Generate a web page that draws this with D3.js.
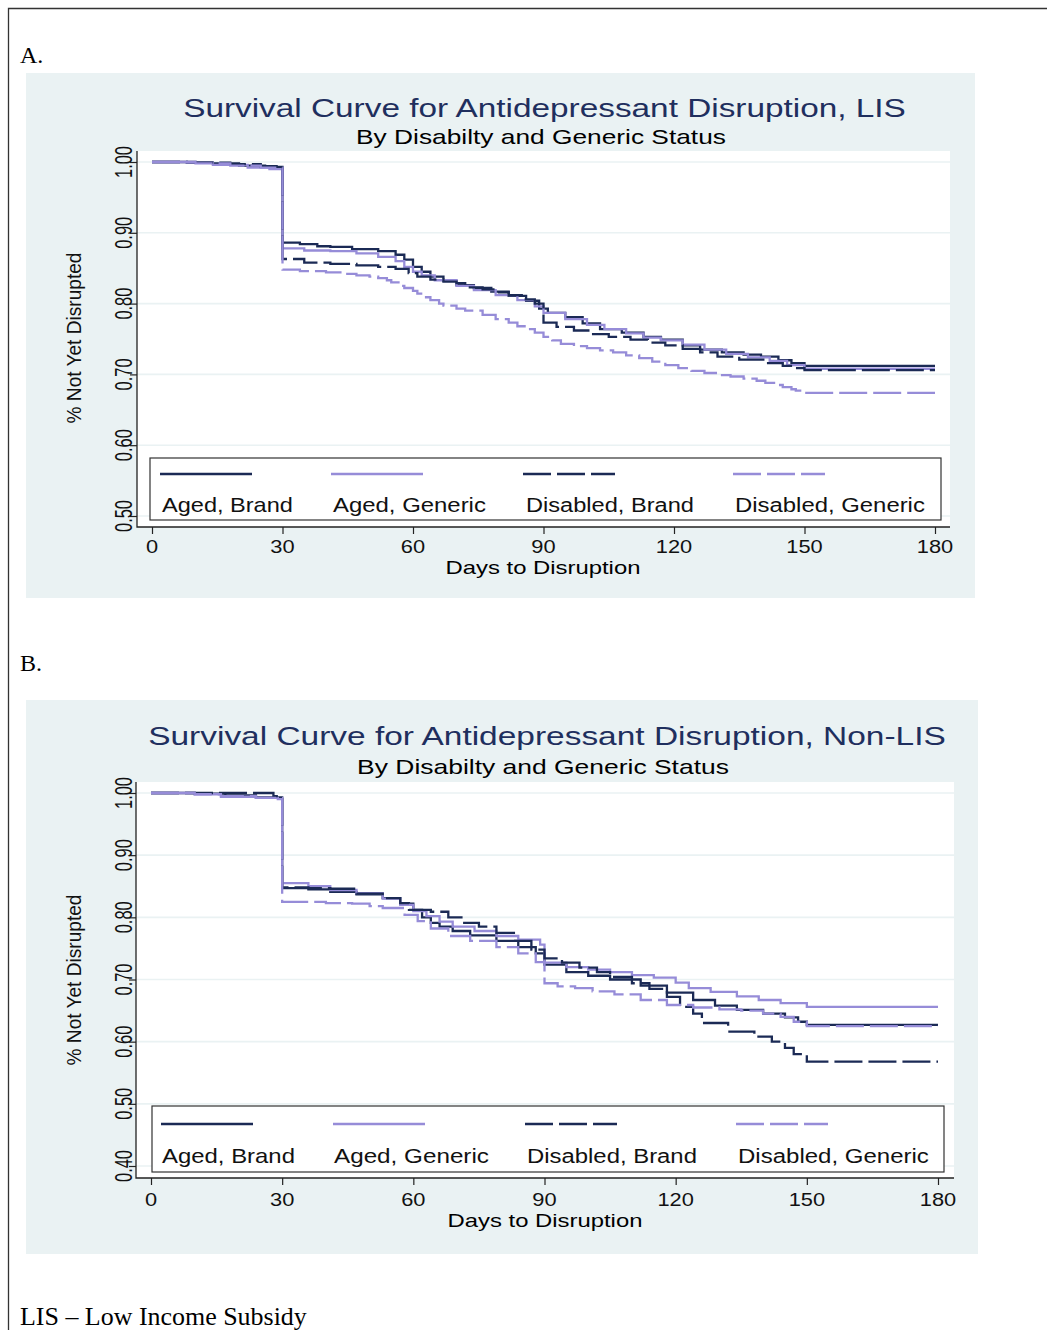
<!DOCTYPE html>
<html>
<head>
<meta charset="utf-8">
<script src="https://cdn.jsdelivr.net/npm/d3@7"></script>
<style>
body { margin: 0; background: #fff; }
svg { display: block; }
</style>
</head>
<body>
<svg id="chart" width="1047" height="1330"></svg>
<script>

// ---- data ----
const seriesNames = ['Aged, Brand', 'Aged, Generic', 'Disabled, Brand', 'Disabled, Generic']
const xTicks = [0, 30, 60, 90, 120, 150, 180]
const yTicksA = [0.5, 0.6, 0.7, 0.8, 0.9, 1.0]
const yTicksB = [0.4, 0.5, 0.6, 0.7, 0.8, 0.9, 1.0]

// panel A, LIS  [day, share not yet disrupted]
const lisAgedBrand = [[0,1],[8,0.999],[14,0.998],[20,0.995],[26,0.993],[30,0.886],[34,0.884],[38,0.881],[41,0.880],[46,0.877],[52,0.874],[56,0.869],[58,0.862],[60,0.852],[62,0.845],[64,0.838],[67,0.832],[70,0.826],[74,0.822],[78,0.817],[82,0.811],[86,0.804],[89,0.793],[91,0.787],[95,0.781],[99,0.772],[103,0.764],[108,0.759],[113,0.753],[117,0.749],[122,0.741],[126,0.735],[131,0.731],[136,0.728],[140,0.725],[144,0.720],[147,0.716],[150,0.712],[180,0.712]]
const lisAgedGeneric = [[0,1],[8,0.999],[14,0.996],[22,0.992],[27,0.990],[30,0.878],[35,0.875],[41,0.874],[47,0.871],[52,0.866],[56,0.860],[58,0.852],[60,0.845],[62,0.840],[65,0.833],[70,0.825],[74,0.819],[79,0.812],[84,0.805],[88,0.796],[90,0.787],[95,0.778],[100,0.770],[104,0.764],[109,0.758],[113,0.752],[117,0.748],[122,0.742],[127,0.735],[132,0.729],[137,0.724],[142,0.719],[146,0.713],[150,0.708],[180,0.708]]
const lisDisabledBrand = [[0,1],[10,0.999],[18,0.997],[25,0.994],[30,0.863],[35,0.858],[41,0.856],[47,0.854],[52,0.852],[56,0.849],[59,0.843],[61,0.838],[64,0.834],[67,0.831],[70,0.829],[72,0.823],[76,0.820],[79,0.816],[82,0.812],[85,0.806],[88,0.800],[90,0.773],[93,0.767],[97,0.762],[101,0.757],[105,0.753],[110,0.749],[114,0.745],[118,0.741],[122,0.736],[126,0.731],[130,0.725],[135,0.721],[141,0.716],[145,0.712],[148,0.709],[150,0.706],[180,0.706]]
const lisDisabledGeneric = [[0,1],[10,0.998],[18,0.995],[25,0.992],[30,0.848],[34,0.846],[40,0.844],[44,0.842],[47,0.840],[50,0.838],[52,0.836],[54,0.833],[55,0.830],[57,0.825],[58,0.822],[60,0.818],[61,0.814],[63,0.809],[64,0.805],[66,0.800],[67,0.797],[70,0.793],[72,0.790],[76,0.784],[79,0.778],[82,0.773],[84,0.768],[86,0.764],[88,0.759],[90,0.753],[92,0.748],[94,0.743],[97,0.740],[100,0.737],[103,0.734],[106,0.731],[109,0.727],[112,0.723],[115,0.718],[118,0.713],[121,0.709],[124,0.705],[127,0.702],[130,0.699],[133,0.697],[136,0.694],[139,0.691],[141,0.688],[143,0.685],[145,0.682],[147,0.679],[148,0.677],[150,0.674],[180,0.674]]

// panel B, Non-LIS
const nonAgedBrand = [[0,1],[10,0.999],[17,0.996],[24,0.993],[30,0.847],[36,0.845],[41,0.841],[47,0.837],[53,0.831],[57,0.822],[60,0.812],[62,0.800],[64,0.791],[66,0.785],[69,0.778],[73,0.771],[79,0.762],[84,0.752],[88,0.742],[90,0.724],[95,0.712],[100,0.706],[105,0.700],[112,0.690],[118,0.679],[124,0.667],[129,0.658],[134,0.651],[140,0.645],[145,0.639],[148,0.632],[150,0.627],[180,0.627]]
const nonAgedGeneric = [[0,1],[10,0.998],[16,0.994],[24,0.992],[29,0.990],[30,0.855],[36,0.850],[41,0.844],[47,0.839],[53,0.830],[57,0.820],[60,0.810],[63,0.802],[66,0.793],[69,0.785],[74,0.778],[79,0.770],[84,0.764],[89,0.756],[90,0.727],[95,0.720],[100,0.716],[105,0.712],[110,0.707],[115,0.703],[120,0.695],[123,0.686],[128,0.680],[134,0.673],[139,0.667],[144,0.662],[150,0.656],[180,0.656]]
const nonDisabledBrand = [[0,1],[27,1],[28,0.995],[30,0.848],[36,0.847],[41,0.846],[47,0.838],[53,0.831],[57,0.823],[59,0.812],[64,0.809],[68,0.800],[71,0.791],[75,0.785],[79,0.775],[83,0.762],[87,0.748],[90,0.734],[94,0.727],[98,0.719],[102,0.712],[105,0.704],[110,0.694],[114,0.685],[118,0.672],[121,0.656],[124,0.645],[126,0.630],[132,0.616],[138,0.608],[142,0.600],[145,0.590],[147,0.580],[150,0.568],[180,0.568]]
const nonDisabledGeneric = [[0,1],[10,0.998],[16,0.995],[24,0.992],[30,0.825],[40,0.823],[46,0.822],[50,0.818],[53,0.815],[58,0.804],[61,0.794],[64,0.782],[68,0.770],[73,0.762],[79,0.752],[84,0.742],[88,0.728],[90,0.694],[93,0.689],[97,0.686],[101,0.681],[106,0.676],[112,0.667],[118,0.659],[124,0.655],[130,0.652],[135,0.650],[140,0.645],[144,0.640],[147,0.632],[150,0.625],[180,0.625]]

// ---- styles ----
const navy = '#1b2a55'
const lavender = '#968cd8'
const bgColor = '#eaf2f3'
const sans = '"Liberation Sans", Arial, Helvetica, sans-serif'
const serif = '"Liberation Serif", "Times New Roman", serif'

const seriesStyle = [
	{ color: navy, dash: null },
	{ color: lavender, dash: null },
	{ color: navy, dash: '28,6' },
	{ color: lavender, dash: '28,6' }
]

const svg = d3.select('#chart')

// text helper: fit to a target width by stretching along the text
function txt(g, s, x, y, size, opts) {
	opts = opts || {}
	let t = g.append('text')
	.attr('font-family', opts.family || sans)
	.attr('font-size', size)
	.attr('fill', opts.fill || '#000')
	.attr('text-anchor', opts.anchor || 'start')
	.text(s)
	let len = t.node().getComputedTextLength()
	let k = opts.width ? opts.width / len : (opts.k || 1)
	if (opts.rotate) {
		t.attr('transform', `translate(${x},${y}) rotate(-90) scale(${k},1)`)
	} else {
		t.attr('transform', `translate(${x},${y}) scale(${k},1)`)
	}
	return t
}

// page frame
svg.append('path')
.attr('d', 'M1047,8.5 L8.5,8.5 L8.5,1330')
.attr('fill', 'none')
.attr('stroke', '#333')
.attr('stroke-width', 1.3)

txt(svg, 'A.', 20, 63, 24, { family: serif })
txt(svg, 'B.', 20, 671, 24, { family: serif })
txt(svg, 'LIS \u2013 Low Income Subsidy', 20, 1325, 25, { family: serif, width: 287 })

function drawPanel(cfg) {

	let g = svg.append('g')

	g.append('rect')
	.attr('x', cfg.bg[0]).attr('y', cfg.bg[1])
	.attr('width', cfg.bg[2] - cfg.bg[0]).attr('height', cfg.bg[3] - cfg.bg[1])
	.attr('fill', bgColor)

	let xScale = d3.scaleLinear().domain([0, 180]).range(cfg.xRange)
	let yScale = d3.scaleLinear().domain([cfg.yTicks[0], 1]).range(cfg.yRange)

	let p = cfg.plot

	g.append('rect')
	.attr('x', p.left).attr('y', p.top)
	.attr('width', p.right - p.left).attr('height', p.bottom - p.top)
	.attr('fill', '#fff')

	// grid
	g.selectAll('.grid')
	.data(cfg.yTicks)
	.enter()
	.append('line')
	.attr('x1', p.left).attr('x2', p.right)
	.attr('y1', d => yScale(d)).attr('y2', d => yScale(d))
	.attr('stroke', bgColor)
	.attr('stroke-width', 1.6)

	// axes
	let yaxis = g.append('g')
	.attr('transform', `translate(${p.left},0)`)
	.call(d3.axisLeft(yScale).tickValues(cfg.yTicks).tickSizeInner(7).tickSizeOuter(0))
	yaxis.select('.domain').remove()
	yaxis.selectAll('text').remove()
	yaxis.selectAll('line').attr('stroke', '#222').attr('stroke-width', 1.2)

	let xaxis = g.append('g')
	.attr('transform', `translate(0,${p.bottom})`)
	.call(d3.axisBottom(xScale).tickValues(xTicks).tickSizeInner(7).tickSizeOuter(0))
	xaxis.select('.domain').remove()
	xaxis.selectAll('text').remove()
	xaxis.selectAll('line').attr('stroke', '#222').attr('stroke-width', 1.2)

	g.append('path')
	.attr('d', `M${p.left},${p.top} L${p.left},${p.bottom} L${p.right},${p.bottom}`)
	.attr('fill', 'none')
	.attr('stroke', '#222')
	.attr('stroke-width', 1.3)

	cfg.yTicks.forEach(v => {
		txt(g, d3.format('.2f')(v), cfg.yTickX, yScale(v), 23, { anchor: 'middle', rotate: true, width: 32, fill: '#111' })
	})
	xTicks.forEach(v => {
		txt(g, String(v), xScale(v), cfg.xTickY, 18.5, { anchor: 'middle', k: 1.18, fill: '#111' })
	})

	txt(g, 'Days to Disruption', cfg.xLabel[0], cfg.xLabel[1], 19, { anchor: 'middle', width: 195 })
	txt(g, '% Not Yet Disrupted', cfg.yLabel[0], cfg.yLabel[1], 21, { anchor: 'middle', rotate: true, width: 171, fill: '#111' })

	txt(g, cfg.title, cfg.titlePos[0], cfg.titlePos[1], 26, { anchor: 'middle', width: cfg.titleWidth, fill: '#1f2f5e' })
	txt(g, 'By Disabilty and Generic Status', cfg.subPos[0], cfg.subPos[1], 20.5, { anchor: 'middle', width: cfg.subWidth })

	// curves
	let line = d3.line()
	.x(d => xScale(d[0]))
	.y(d => yScale(d[1]))
	.curve(d3.curveStepAfter)

	cfg.series.forEach((s, i) => {
		g.append('path')
		.datum(s)
		.attr('d', line)
		.attr('fill', 'none')
		.attr('stroke', seriesStyle[i].color)
		.attr('stroke-width', 2.3)
		.attr('stroke-dasharray', seriesStyle[i].dash)
	})

	// legend
	let lb = cfg.legend
	g.append('rect')
	.attr('x', lb.box[0]).attr('y', lb.box[1])
	.attr('width', lb.box[2] - lb.box[0]).attr('height', lb.box[3] - lb.box[1])
	.attr('fill', '#fff')
	.attr('stroke', '#333')
	.attr('stroke-width', 1.2)

	seriesNames.forEach((name, i) => {
		g.append('line')
		.attr('x1', lb.sampleX[i]).attr('x2', lb.sampleX[i] + 92)
		.attr('y1', lb.sampleY).attr('y2', lb.sampleY)
		.attr('stroke', seriesStyle[i].color)
		.attr('stroke-width', 2.5)
		.attr('stroke-dasharray', seriesStyle[i].dash)

		txt(g, name, lb.labelX[i], lb.labelY, 21, { width: lb.labelW[i], fill: '#111' })
	})
}

drawPanel({
	bg: [26, 73, 975, 598],
	plot: { left: 137, top: 151, right: 950, bottom: 527 },
	xRange: [152, 935],
	yRange: [516, 162],
	yTicks: yTicksA,
	yTickX: 132,
	xTickY: 553,
	xLabel: [543, 574],
	yLabel: [81, 338],
	title: 'Survival Curve for Antidepressant Disruption, LIS',
	titlePos: [544.5, 117],
	titleWidth: 723,
	subPos: [541, 144],
	subWidth: 370,
	series: [lisAgedBrand, lisAgedGeneric, lisDisabledBrand, lisDisabledGeneric],
	legend: {
		box: [150, 458, 941, 520],
		sampleX: [160, 331, 523, 733],
		sampleY: 474,
		labelX: [162, 333, 526, 735],
		labelY: 512,
		labelW: [131, 153, 168, 190]
	}
})

drawPanel({
	bg: [26, 700, 978, 1254],
	plot: { left: 136, top: 782, right: 954, bottom: 1178 },
	xRange: [151, 938],
	yRange: [1166, 793],
	yTicks: yTicksB,
	yTickX: 132,
	xTickY: 1206,
	xLabel: [545, 1227],
	yLabel: [81, 980],
	title: 'Survival Curve for Antidepressant Disruption, Non-LIS',
	titlePos: [547, 745],
	titleWidth: 798,
	subPos: [543, 774],
	subWidth: 372,
	series: [nonAgedBrand, nonAgedGeneric, nonDisabledBrand, nonDisabledGeneric],
	legend: {
		box: [152, 1106, 944, 1172],
		sampleX: [161, 333, 525, 736],
		sampleY: 1124,
		labelX: [162, 334, 527, 738],
		labelY: 1163,
		labelW: [133, 155, 170, 191]
	}
})

</script>
</body>
</html>
